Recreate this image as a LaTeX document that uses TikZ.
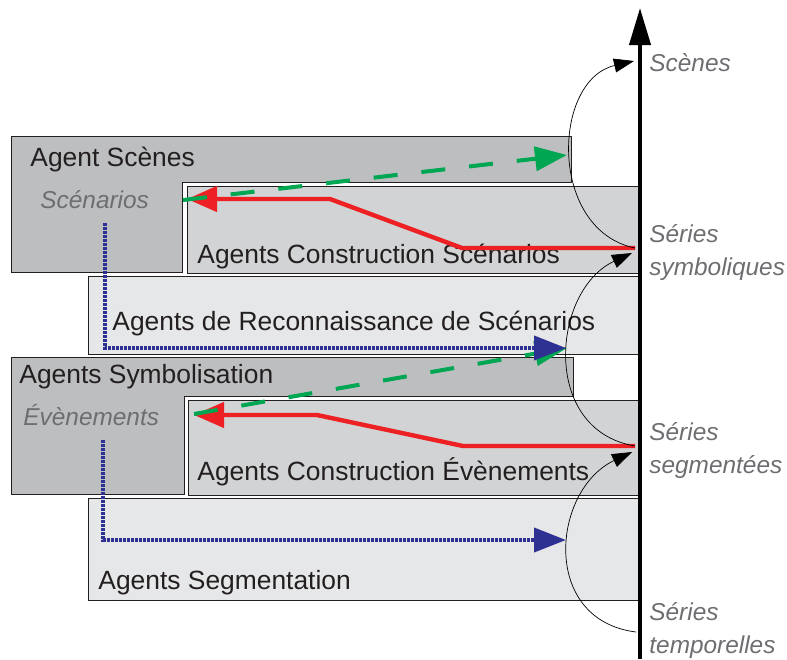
\documentclass[tikz,border=0pt]{standalone}
\usepackage{fontspec}
\setmainfont{Liberation Sans}
\usetikzlibrary{arrows.meta}
\definecolor{boxdark}{RGB}{188,190,192}
\definecolor{boxmid}{RGB}{209,211,212}
\definecolor{boxlight}{RGB}{230,231,232}
\definecolor{inkdark}{RGB}{35,31,32}
\definecolor{levgray}{RGB}{109,110,113}
\definecolor{flowred}{RGB}{237,32,36}
\definecolor{flowgreen}{RGB}{0,166,81}
\definecolor{flowblue}{RGB}{46,49,146}
\begin{document}
\begin{tikzpicture}[x=0.5pt,y=-0.5pt,
		agbox/.style={draw=inkdark, line width=0.5pt},
		boxtext/.style={anchor=base west, inner sep=0pt, text=inkdark, font=\fontsize{13.2}{16}\selectfont},
		levtext/.style={anchor=base west, inner sep=0pt, text=levgray, align=left, font=\fontsize{12.2}{16.5}\selectfont\itshape},
		buildarrow/.style={flowred, line width=2.2pt, -{Triangle[length=15pt,width=12.5pt]}},
		recoarrow/.style={flowgreen, line width=2pt, dash pattern=on 12pt off 12pt, -{Triangle[length=16pt,width=12pt]}},
		segarrow/.style={flowblue, line width=2pt, dash pattern=on 1.4pt off 0.6pt, -{Triangle[length=16pt,width=12pt]}},
		levelarrow/.style={black, line width=0.35pt, -{Triangle[length=10pt,width=7pt]}}]
	\useasboundingbox (0,0) rectangle (787,659);
	\draw [agbox, fill=boxdark] (11,136) -- (571,136) -- (571,182) -- (182,182) -- (182,272) -- (11,272) -- cycle;
	\draw [agbox, fill=boxmid] (187,186) rectangle (640,273);
	\draw [agbox, fill=boxlight] (88,276) rectangle (640,354);
	\draw [agbox, fill=boxdark] (11,357) -- (573,357) -- (573,396) -- (184,396) -- (184,494) -- (11,494) -- cycle;
	\draw [agbox, fill=boxmid] (188,400) rectangle (640,495);
	\draw [agbox, fill=boxlight] (88,498) rectangle (640,600);
	\node [boxtext] (scenes) at (30,166) {Agent Scènes};
	\node [levtext] (scenarios) at (40,208) {Scénarios};
	\node [boxtext] (constscen) at (197,263) {Agents Construction Scénarios};
	\node [boxtext] (reco) at (112,330) {Agents de Reconnaissance de Scénarios};
	\node [boxtext] (symbol) at (19,383) {Agents Symbolisation};
	\node [levtext] (events) at (23,425) {Évènements};
	\node [boxtext] (constevt) at (197,480) {Agents Construction Évènements};
	\node [boxtext] (segment) at (98,589) {Agents Segmentation};
	\node [levtext] (lscenes) at (649,71) {Scènes};
	\node [levtext] (lsymb) at (649,275) {Séries\\symboliques};
	\node [levtext] (lsegm) at (649,473) {Séries\\segmentées};
	\node [levtext] (ltemp) at (649,653) {Séries\\temporelles};
	\coordinate (pscenes) at (634,61);
	\coordinate (psymb) at (635,248);
	\coordinate (psymbin) at (632,253);
	\coordinate (psegm) at (635,446);
	\coordinate (psegmin) at (632,452);
	\coordinate (ptemp) at (636,632);
	\coordinate (scenin) at (187,199);
	\coordinate (evtin) at (194,415);
	\coordinate (scenout) at (183,200);
	\coordinate (scenup) at (567,155);
	\coordinate (evtout) at (194,414);
	\coordinate (evtup) at (567,348);
	\coordinate (scendown) at (105,223);
	\coordinate (recoend) at (566,348);
	\coordinate (evtdown) at (103,440);
	\coordinate (segend) at (566,540);
	\draw [buildarrow] (psymb) -- (462,248) -- (330,199) -- (scenin);
	\draw [buildarrow] (psegm) -- (463,446) -- (317,415) -- (evtin);
	\draw [recoarrow] (scenout) -- (scenup);
	\draw [recoarrow] (evtout) -- (evtup);
	\draw [segarrow] (scendown) |- (recoend);
	\draw [segarrow] (evtdown) |- (segend);
	\draw [levelarrow] (psymb) .. controls (548,230) and (552,80) .. (pscenes);
	\draw [levelarrow] (psegm) .. controls (540,430) and (552,290) .. (psymbin);
	\draw [levelarrow] (ptemp) .. controls (540,620) and (552,490) .. (psegmin);
	\draw [line width=2pt, -{Triangle[length=18.5pt,width=10.5pt]}] (640,659) -- (640,8);
\end{tikzpicture}
\end{document}
